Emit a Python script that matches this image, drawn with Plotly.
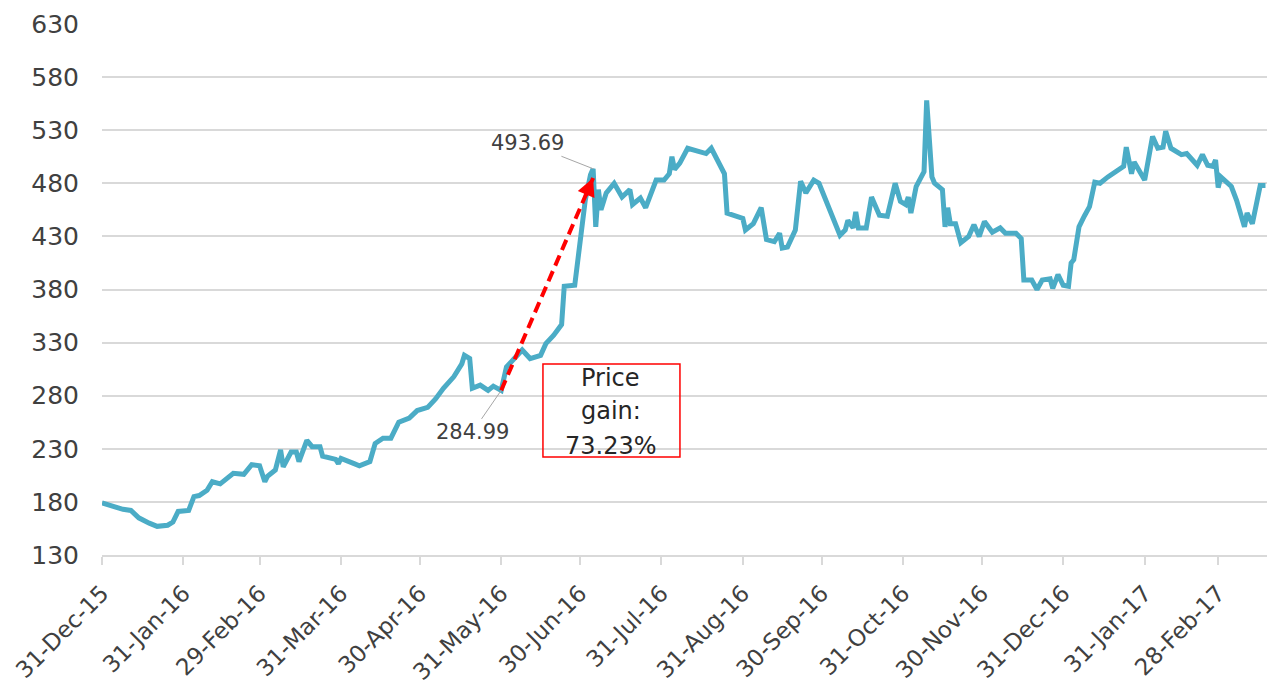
import plotly.graph_objects as go

# ---- data ----
dates = [
    "2015-12-31", "2016-01-04", "2016-01-08", "2016-01-11", "2016-01-14", "2016-01-18",
    "2016-01-21", "2016-01-25", "2016-01-27", "2016-01-29", "2016-02-02", "2016-02-04",
    "2016-02-06", "2016-02-09", "2016-02-11", "2016-02-14", "2016-02-16", "2016-02-19",
    "2016-02-23", "2016-02-26", "2016-02-29", "2016-03-02", "2016-03-03", "2016-03-06",
    "2016-03-08", "2016-03-09", "2016-03-12", "2016-03-14", "2016-03-15", "2016-03-18",
    "2016-03-20", "2016-03-23", "2016-03-24", "2016-03-29", "2016-03-30", "2016-03-31",
    "2016-04-05", "2016-04-07", "2016-04-11", "2016-04-13", "2016-04-16", "2016-04-19",
    "2016-04-22", "2016-04-26", "2016-04-29", "2016-05-03", "2016-05-06", "2016-05-09",
    "2016-05-13", "2016-05-16", "2016-05-17", "2016-05-19", "2016-05-20", "2016-05-23",
    "2016-05-26", "2016-05-28", "2016-05-31", "2016-06-02", "2016-06-05", "2016-06-08",
    "2016-06-11", "2016-06-15", "2016-06-17", "2016-06-20", "2016-06-23", "2016-06-24",
    "2016-06-28", "2016-06-29", "2016-07-01", "2016-07-02", "2016-07-04", "2016-07-05",
    "2016-07-06", "2016-07-07", "2016-07-08", "2016-07-10", "2016-07-13", "2016-07-16",
    "2016-07-19", "2016-07-20", "2016-07-23", "2016-07-25", "2016-07-29", "2016-08-01",
    "2016-08-03", "2016-08-04", "2016-08-05", "2016-08-07", "2016-08-10", "2016-08-13",
    "2016-08-17", "2016-08-19", "2016-08-21", "2016-08-24", "2016-08-25", "2016-08-27",
    "2016-08-31", "2016-09-01", "2016-09-04", "2016-09-07", "2016-09-08", "2016-09-09",
    "2016-09-12", "2016-09-14", "2016-09-15", "2016-09-17", "2016-09-20", "2016-09-22",
    "2016-09-24", "2016-09-27", "2016-09-29", "2016-10-01", "2016-10-03", "2016-10-07",
    "2016-10-09", "2016-10-10", "2016-10-12", "2016-10-13", "2016-10-14", "2016-10-17",
    "2016-10-19", "2016-10-22", "2016-10-25", "2016-10-28", "2016-10-30", "2016-11-01",
    "2016-11-02", "2016-11-03", "2016-11-05", "2016-11-07", "2016-11-08", "2016-11-09",
    "2016-11-11", "2016-11-12", "2016-11-15", "2016-11-16", "2016-11-17", "2016-11-18",
    "2016-11-20", "2016-11-22", "2016-11-25", "2016-11-27", "2016-11-29", "2016-12-01",
    "2016-12-04", "2016-12-07", "2016-12-09", "2016-12-13", "2016-12-15", "2016-12-16",
    "2016-12-19", "2016-12-21", "2016-12-23", "2016-12-26", "2016-12-27", "2016-12-29",
    "2016-12-31", "2017-01-02", "2017-01-03", "2017-01-04", "2017-01-06", "2017-01-08",
    "2017-01-10", "2017-01-12", "2017-01-14", "2017-01-17", "2017-01-20", "2017-01-23",
    "2017-01-24", "2017-01-26", "2017-01-27", "2017-01-31", "2017-02-03", "2017-02-05",
    "2017-02-07", "2017-02-08", "2017-02-10", "2017-02-14", "2017-02-16", "2017-02-18",
    "2017-02-20", "2017-02-22", "2017-02-24", "2017-02-26", "2017-02-27", "2017-02-28",
    "2017-03-01", "2017-03-05", "2017-03-07", "2017-03-10", "2017-03-11", "2017-03-13",
    "2017-03-15", "2017-03-16", "2017-03-18",
]
prices = [
    179, 176, 173, 172, 165, 160,
    157, 158, 161, 171, 172, 185,
    186, 191, 199, 197, 201, 207,
    206, 215, 214, 199, 204, 210,
    229, 213, 227, 227, 218, 238,
    232, 232, 223, 220, 216, 221,
    216, 214, 218, 235, 240, 240,
    255, 259, 266, 269, 277, 287,
    298, 310, 318, 315, 287, 290,
    285, 289, 284.99, 307, 315, 323,
    315, 318, 329, 337, 347, 383,
    384, 402, 439, 464, 488, 493.69,
    439, 474, 455, 471, 480, 467,
    474, 460, 466, 457, 483, 483,
    489, 505, 493, 499, 513, 511,
    508, 513, 504, 489, 452, 450,
    447, 436, 442, 457, 441, 427,
    425, 433, 419, 420, 436, 482,
    471, 483, 480, 467, 455, 431,
    436, 445, 438, 453, 438, 438,
    467, 450, 449, 480, 463, 460,
    467, 452, 477, 485, 491, 558,
    486, 480, 474, 439, 457, 442,
    442, 424, 430, 441, 430, 444,
    434, 438, 433, 433, 428, 389,
    389, 380, 389, 390, 381, 394,
    384, 383, 405, 408, 439, 449,
    458, 481, 480, 486, 491, 496,
    514, 489, 500, 483, 524, 513,
    514, 529, 513, 507, 508, 503,
    497, 507, 497, 496, 502, 476,
    486, 477, 464, 439, 452, 442,
    464, 478, 478,
]

tick_dates = [
    "2015-12-31", "2016-01-31", "2016-02-29", "2016-03-31", "2016-04-30",
    "2016-05-31", "2016-06-30", "2016-07-31", "2016-08-31", "2016-09-30",
    "2016-10-31", "2016-11-30", "2016-12-31", "2017-01-31", "2017-02-28",
]
y_ticks = [130, 180, 230, 280, 330, 380, 430, 480, 530, 580, 630]

start_date, start_price = "2016-05-31", 284.99
peak_date, peak_price = "2016-07-05", 493.69
arrow_tip_value = 485
gain_lines = ["Price", "gain:", "73.23%"]

# ---- styling ----
LINE_COLOR = "#4BACC6"
GRID = "#D9D9D9"
TEXT = "#404040"
FONT = "DejaVu Sans"

fig = go.Figure()
fig.add_trace(go.Scatter(
    x=dates, y=prices, mode="lines",
    line=dict(color=LINE_COLOR, width=5),
    hoverinfo="skip", showlegend=False,
))
# dashed red gain arrow shaft
fig.add_trace(go.Scatter(
    x=[start_date, peak_date], y=[start_price, arrow_tip_value], mode="lines",
    line=dict(color="#FF0000", width=4, dash="11px,6px"),
    hoverinfo="skip", showlegend=False,
))

gain_y = [0.3333, 0.2712, 0.2053]
annotations = [
    dict(x=peak_date, y=peak_price, xref="x", yref="y",
         text="493.69", showarrow=True, arrowhead=0, arrowwidth=1,
         arrowcolor="#A6A6A6", ax=-66, ay=-26, standoff=0,
         font=dict(family=FONT, size=21, color=TEXT)),
    dict(x=start_date, y=start_price, xref="x", yref="y",
         text="284.99", showarrow=True, arrowhead=0, arrowwidth=1,
         arrowcolor="#A6A6A6", ax=-29, ay=42, standoff=0,
         font=dict(family=FONT, size=21, color=TEXT)),
    dict(x=peak_date, y=arrow_tip_value, xref="x", yref="y",
         text="", showarrow=True, arrowhead=2, arrowsize=0.9,
         arrowwidth=4, arrowcolor="#FF0000", ax=-8, ay=19, standoff=0),
]
for line_text, yy in zip(gain_lines, gain_y):
    annotations.append(dict(
        x=0.4369, y=yy, xref="paper", yref="paper", text=line_text,
        showarrow=False, xanchor="center", yanchor="middle",
        font=dict(family=FONT, size=24, color="#262626"),
    ))

fig.update_layout(
    width=1267, height=687,
    margin=dict(l=102, r=0, t=24, b=132),
    paper_bgcolor="white", plot_bgcolor="white",
    font=dict(family=FONT, size=21, color=TEXT),
    xaxis=dict(
        type="date",
        range=["2015-12-31", "2017-03-18 14:00"],
        tickvals=tick_dates, tickformat="%d-%b-%y",
        tickangle=-45,
        showgrid=False, zeroline=False,
        showline=True, linecolor=GRID, linewidth=1.5,
        ticks="outside", ticklen=8, tickcolor=GRID, tickwidth=1.5,
        tickfont=dict(family=FONT, size=23, color=TEXT),
        ticklabelstandoff=6,
        ticklabeloverflow="allow",
        automargin=False,
    ),
    yaxis=dict(
        range=[130, 630], tickvals=y_ticks,
        showgrid=True, gridcolor=GRID, gridwidth=1.5,
        zeroline=False, showline=False, ticks="",
        tickfont=dict(family=FONT, size=25, color=TEXT),
        ticklabelstandoff=22,
        automargin=False,
    ),
    shapes=[dict(
        type="rect", xref="paper", yref="paper",
        x0=0.3785, x1=0.4961, y0=0.1846, y1=0.3597,
        line=dict(color="#FF0000", width=1.5), fillcolor="rgba(0,0,0,0)",
    )],
    annotations=annotations,
)

fig.write_html(
    "out.html",
    config={"displayModeBar": False},
    post_script="document.body.style.margin='0';document.body.style.overflow='hidden';",
)
